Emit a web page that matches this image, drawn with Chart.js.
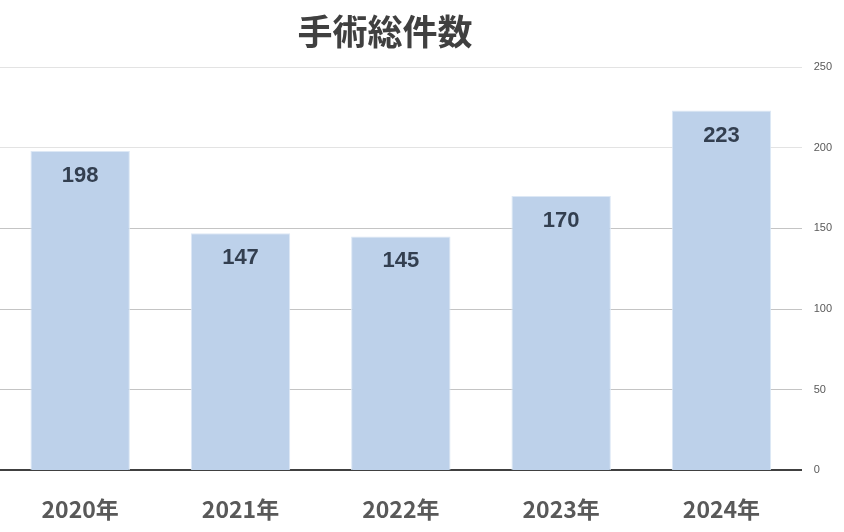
<!DOCTYPE html>
<html>
<head>
<meta charset="utf-8">
<script src="https://cdn.jsdelivr.net/npm/chart.js@4/dist/chart.umd.min.js"></script>
<style>
  html, body { margin: 0; padding: 0; background: #fff; }
  #wrap { width: 844px; height: 532px; }
</style>
</head>
<body>
<div id="wrap"><canvas id="surgeryChart"></canvas></div>
<script>
const years = ["2020年", "2021年", "2022年", "2023年", "2024年"];
const totals = [198, 147, 145, 170, 223];
const yTicks = [0, 50, 100, 150, 200, 250];
const chartTitle = "手術総件数";

const FONT = "'Noto Sans CJK JP', 'Noto Sans', sans-serif";

// draws the title and the value labels inside each bar
const labelPlugin = {
  id: "labelPlugin",
  afterDatasetsDraw(chart) {
    const ctx = chart.ctx;
    ctx.save();
    ctx.fillStyle = "#404040";
    ctx.font = "bold 35px " + FONT;
    ctx.textAlign = "center";
    ctx.textBaseline = "middle";
    ctx.fillText(chartTitle, 385, 32);

    ctx.fillStyle = "#333f50";
    ctx.font = "bold 22px 'Liberation Sans', Arial, sans-serif";
    chart.getDatasetMeta(0).data.forEach((bar, i) => {
      ctx.fillText(totals[i], bar.x, bar.y + 25);
    });
    ctx.restore();
  },
};

new Chart(document.getElementById("surgeryChart"), {
  type: "bar",
  data: {
    labels: years,
    datasets: [
      {
        data: totals,
        backgroundColor: "#bdd1ea",
        borderColor: "#dde8f5",
        borderWidth: 1,
        barPercentage: 0.62,
        categoryPercentage: 1,
      },
    ],
  },
  options: {
    responsive: true,
    maintainAspectRatio: false,
    animation: false,
    layout: { padding: { top: 67, left: 0, right: 0, bottom: -16 } },
    plugins: {
      legend: { display: false },
      tooltip: { enabled: false },
      title: { display: false },
    },
    scales: {
      x: {
        grid: { display: false, drawTicks: false },
        border: { display: true, color: "#404040", width: 2 },
        ticks: {
          color: "#595959",
          font: { family: FONT, size: 23, weight: "bold" },
          padding: 25,
        },
      },
      y: {
        position: "right",
        min: 0,
        max: 250,
        afterBuildTicks(axis) {
          axis.ticks = yTicks.map((v) => ({ value: v }));
        },
        grid: {
          drawTicks: false,
          color: (c) => (c.tick && c.tick.value >= 200 ? "#e3e3e3" : "#c4c4c4"),
          lineWidth: 1,
        },
        border: { display: false },
        ticks: {
          color: "#595959",
          font: { family: "'Liberation Sans', Arial, sans-serif", size: 11 },
          padding: 12,
        },
      },
    },
  },
  plugins: [labelPlugin],
});
</script>
</body>
</html>
